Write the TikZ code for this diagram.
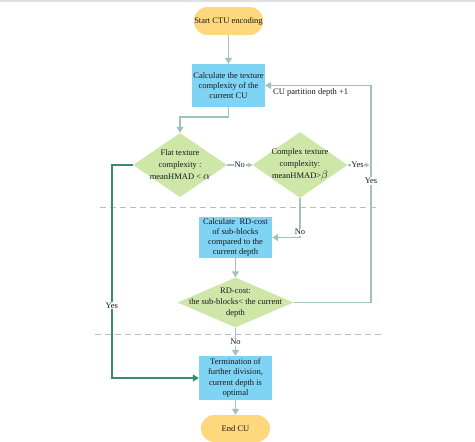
\documentclass[tikz,border=0pt]{standalone}
\usepackage{fontspec}
\setmainfont{Liberation Serif}
\usetikzlibrary{shapes.geometric,arrows.meta}
\definecolor{lineC}{HTML}{9FC2B9}
\definecolor{darkG}{HTML}{3A8C6E}
\definecolor{termC}{HTML}{FDD87C}
\definecolor{boxC}{HTML}{7FD3F4}
\definecolor{decC}{HTML}{CFE6A9}
\definecolor{dashC}{HTML}{BDBDBD}
\newcommand{\bigsym}[1]{{\fontsize{10.5}{10}\selectfont$#1$}}
\begin{document}
\begin{tikzpicture}[x=1pt,y=-1pt,
  every node/.style={font=\fontsize{8.5}{10.2}\selectfont, text=black!90},
  stadium/.style={rectangle, rounded corners=13.5pt, fill=termC, minimum width=69pt, minimum height=28pt, inner sep=0pt},
  procbox/.style={rectangle, fill=boxC, minimum width=73pt, minimum height=43pt, inner sep=0pt, align=center},
  decision/.style={diamond, fill=decC, inner sep=0pt},
  dlabel/.style={align=center, font=\fontsize{8.5}{12}\selectfont, text=black!90},
  arr/.style={draw=lineC, line width=1.8pt, -{Triangle[width=7pt,length=6pt]}},
  sarr/.style={draw=lineC, line width=1.8pt, -{Triangle[width=4.5pt,length=4pt]}},
  garr/.style={draw=darkG, line width=1.8pt, -{Triangle[width=7pt,length=6pt]}},
  lbl/.style={fill=white, inner sep=1pt},
  sep/.style={draw=dashC, line width=1pt, dash pattern=on 6pt off 4pt}
]
\useasboundingbox (0,0) rectangle (475,442);
\draw[draw=black!12, line width=1.5pt] (0,0.75) -- (475,0.75);

% separators
\draw[sep] (100,207) -- (377,207);
\draw[sep] (95,334) -- (381,334);

% nodes
\node[stadium] (start) at (228.5,21) {Start CTU encoding};
\node[procbox] (calc) at (228.5,85.5) {Calculate the texture\\complexity of the\\current CU};
\node[decision, minimum width=94pt, minimum height=64pt,
  label={[dlabel]center:Flat texture\\complexity :\\meanHMAD < \bigsym{\alpha}}] (flat) at (180,165) {};
\node[decision, minimum width=95pt, minimum height=66pt,
  label={[dlabel]center:Complex texture\\complexity:\\meanHMAD>\bigsym{\beta}}] (complex) at (300,165) {};
\node[procbox, minimum height=41pt] (rdbox) at (235.5,237.5) {Calculate \ RD-cost\\of sub-blocks\\compared to the\\current depth};
\node[decision, minimum width=116pt, minimum height=50pt,
  label={[dlabel, font=\fontsize{8.5}{10.8}\selectfont]center:RD-cost:\\the sub-blocks< the current\\depth}] (rd) at (235.5,302.5) {};
\node[procbox, minimum height=44pt] (term) at (235.5,378) {Termination of\\further division,\\current depth is\\optimal};
\node[stadium, minimum height=27pt] (endcu) at (235.5,428.5) {End CU};

\coordinate (lp) at (371,85.5);
\node[anchor=north west, inner sep=1pt] (cudepth) at (272,87.5) {CU partition depth +1};

% connectors
\draw[arr] (start.south) -- (calc.north);
\draw[arr] (calc.south) -- ++(0,10) -| (flat.north);
\draw[sarr] (flat.east) -- node[lbl]{No} (complex.west);
\draw[sarr, shorten >=1.5pt] (complex.east) -- node[lbl, pos=0.42, inner xsep=0.5pt]{Yes} (complex.east -| lp);
\draw[arr] (complex.south) |- node[lbl, pos=0.43]{No} (rdbox.east);
\draw[arr] (rdbox.south) -- (rd.north);
\draw[arr] (rd.east) -| node[lbl, pos=0.78]{Yes} (lp) -- (calc.east);
\draw[arr] (rd.south) -- node[lbl]{No} (term.north);
\draw[arr] (term.south) -- (endcu.north);
\draw[garr] (flat.west) -- ++(-21,0) |- node[lbl, pos=0.33]{Yes} (term.west);
\end{tikzpicture}
\end{document}
